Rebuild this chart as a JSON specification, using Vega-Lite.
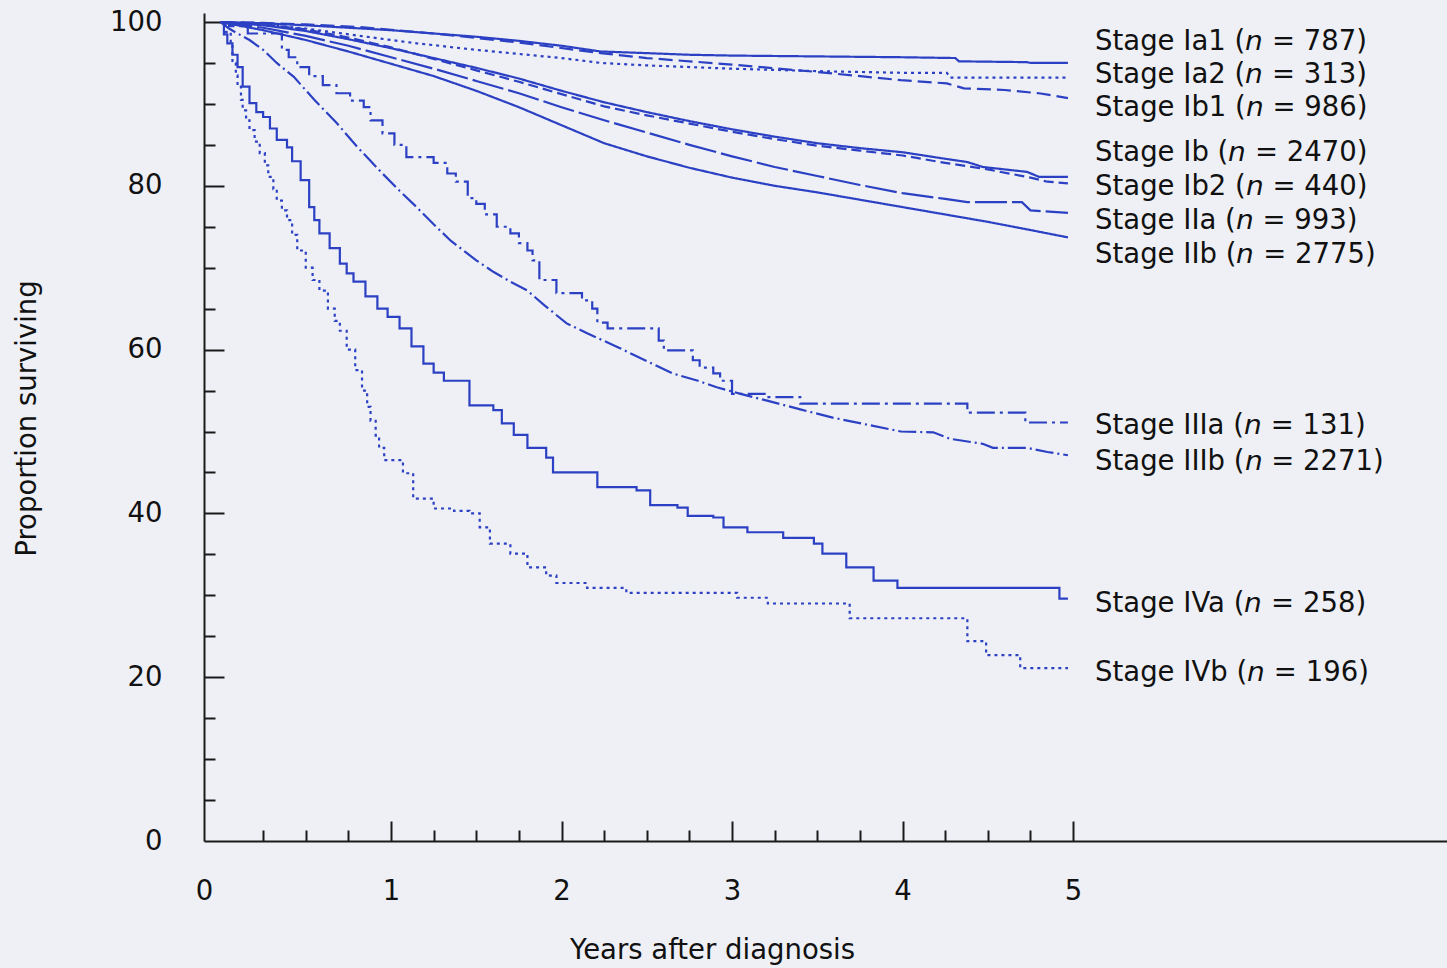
{
  "$schema": "https://vega.github.io/schema/vega-lite/v6.json",
  "width": 1243,
  "height": 828,
  "autosize": {"type": "none"},
  "padding": {"left": 204, "top": 13, "right": 0, "bottom": 127},
  "background": "#eef0f5",
  "config": {
    "view": {"stroke": null},
    "font": "DejaVu Sans",
    "axis": {
      "grid": false,
      "domainColor": "#1a1a1a",
      "domainWidth": 2,
      "tickColor": "#1a1a1a",
      "tickWidth": 2,
      "labelColor": "#111111",
      "titleColor": "#111111",
      "labelFont": "DejaVu Sans",
      "titleFont": "DejaVu Sans",
      "labelFontSize": 27.5,
      "titleFontSize": 27.5,
      "titleFontWeight": "normal",
      "labelFlush": false,
      "labelOverlap": false,
      "labelBound": false
    }
  },
  "datasets": {
    "curves": [
      {"stage": "Ia1", "t": 0, "s": 100}, {"stage": "Ia1", "t": 0.25, "s": 99.85}, {"stage": "Ia1", "t": 0.5, "s": 99.6}, {"stage": "Ia1", "t": 0.75, "s": 99.3}, {"stage": "Ia1", "t": 1, "s": 99.0}, {"stage": "Ia1", "t": 1.25, "s": 98.6}, {"stage": "Ia1", "t": 1.5, "s": 98.2}, {"stage": "Ia1", "t": 1.75, "s": 97.7}, {"stage": "Ia1", "t": 2, "s": 97.1}, {"stage": "Ia1", "t": 2.23, "s": 96.4}, {"stage": "Ia1", "t": 2.5, "s": 96.2}, {"stage": "Ia1", "t": 2.75, "s": 96.0}, {"stage": "Ia1", "t": 3, "s": 95.9}, {"stage": "Ia1", "t": 3.5, "s": 95.8}, {"stage": "Ia1", "t": 3.99, "s": 95.7}, {"stage": "Ia1", "t": 4.31, "s": 95.6}, {"stage": "Ia1", "t": 4.33, "s": 95.2}, {"stage": "Ia1", "t": 4.73, "s": 95.1}, {"stage": "Ia1", "t": 4.75, "s": 95.0}, {"stage": "Ia1", "t": 4.97, "s": 95.0},

      {"stage": "Ia2", "t": 0, "s": 100}, {"stage": "Ia2", "t": 0.25, "s": 99.7}, {"stage": "Ia2", "t": 0.5, "s": 99.2}, {"stage": "Ia2", "t": 0.75, "s": 98.5}, {"stage": "Ia2", "t": 1, "s": 97.8}, {"stage": "Ia2", "t": 1.15, "s": 97.4}, {"stage": "Ia2", "t": 1.5, "s": 96.6}, {"stage": "Ia2", "t": 2, "s": 95.6}, {"stage": "Ia2", "t": 2.23, "s": 95.0}, {"stage": "Ia2", "t": 2.5, "s": 94.7}, {"stage": "Ia2", "t": 3, "s": 94.3}, {"stage": "Ia2", "t": 3.5, "s": 94.0}, {"stage": "Ia2", "t": 3.99, "s": 93.8}, {"stage": "Ia2", "t": 4.26, "s": 93.8}, {"stage": "Ia2", "t": 4.28, "s": 93.2}, {"stage": "Ia2", "t": 4.97, "s": 93.2},

      {"stage": "Ib1", "t": 0, "s": 100}, {"stage": "Ib1", "t": 0.25, "s": 99.9}, {"stage": "Ib1", "t": 0.5, "s": 99.7}, {"stage": "Ib1", "t": 0.8, "s": 99.4}, {"stage": "Ib1", "t": 1.25, "s": 98.6}, {"stage": "Ib1", "t": 1.75, "s": 97.5}, {"stage": "Ib1", "t": 2.23, "s": 96.2}, {"stage": "Ib1", "t": 2.5, "s": 95.6}, {"stage": "Ib1", "t": 3, "s": 94.8}, {"stage": "Ib1", "t": 3.5, "s": 93.9}, {"stage": "Ib1", "t": 3.99, "s": 92.9}, {"stage": "Ib1", "t": 4.26, "s": 92.5}, {"stage": "Ib1", "t": 4.36, "s": 91.9}, {"stage": "Ib1", "t": 4.6, "s": 91.7}, {"stage": "Ib1", "t": 4.8, "s": 91.3}, {"stage": "Ib1", "t": 4.86, "s": 91.1}, {"stage": "Ib1", "t": 4.97, "s": 90.7},

      {"stage": "Ib", "t": 0, "s": 100}, {"stage": "Ib", "t": 0.1, "s": 99.85}, {"stage": "Ib", "t": 0.25, "s": 99.6}, {"stage": "Ib", "t": 0.5, "s": 98.9}, {"stage": "Ib", "t": 0.75, "s": 97.9}, {"stage": "Ib", "t": 1, "s": 96.8}, {"stage": "Ib", "t": 1.25, "s": 95.6}, {"stage": "Ib", "t": 1.5, "s": 94.4}, {"stage": "Ib", "t": 1.75, "s": 93.1}, {"stage": "Ib", "t": 2, "s": 91.6}, {"stage": "Ib", "t": 2.25, "s": 90.2}, {"stage": "Ib", "t": 2.5, "s": 89.0}, {"stage": "Ib", "t": 2.75, "s": 87.9}, {"stage": "Ib", "t": 3, "s": 86.9}, {"stage": "Ib", "t": 3.25, "s": 86.0}, {"stage": "Ib", "t": 3.5, "s": 85.2}, {"stage": "Ib", "t": 3.75, "s": 84.6}, {"stage": "Ib", "t": 4, "s": 84.1}, {"stage": "Ib", "t": 4.25, "s": 83.3}, {"stage": "Ib", "t": 4.38, "s": 82.9}, {"stage": "Ib", "t": 4.47, "s": 82.3}, {"stage": "Ib", "t": 4.73, "s": 81.7}, {"stage": "Ib", "t": 4.8, "s": 81.1}, {"stage": "Ib", "t": 4.97, "s": 81.1},

      {"stage": "Ib2", "t": 0, "s": 100}, {"stage": "Ib2", "t": 0.25, "s": 99.7}, {"stage": "Ib2", "t": 0.5, "s": 99.1}, {"stage": "Ib2", "t": 0.75, "s": 98.1}, {"stage": "Ib2", "t": 1, "s": 96.9}, {"stage": "Ib2", "t": 1.25, "s": 95.5}, {"stage": "Ib2", "t": 1.5, "s": 94.1}, {"stage": "Ib2", "t": 1.75, "s": 92.7}, {"stage": "Ib2", "t": 2, "s": 91.2}, {"stage": "Ib2", "t": 2.25, "s": 89.7}, {"stage": "Ib2", "t": 2.5, "s": 88.6}, {"stage": "Ib2", "t": 2.75, "s": 87.6}, {"stage": "Ib2", "t": 3, "s": 86.6}, {"stage": "Ib2", "t": 3.25, "s": 85.7}, {"stage": "Ib2", "t": 3.5, "s": 84.9}, {"stage": "Ib2", "t": 3.75, "s": 84.3}, {"stage": "Ib2", "t": 4, "s": 83.7}, {"stage": "Ib2", "t": 4.25, "s": 82.8}, {"stage": "Ib2", "t": 4.5, "s": 82.0}, {"stage": "Ib2", "t": 4.75, "s": 81.0}, {"stage": "Ib2", "t": 4.85, "s": 80.5}, {"stage": "Ib2", "t": 4.97, "s": 80.3},

      {"stage": "IIa", "t": 0, "s": 100}, {"stage": "IIa", "t": 0.1, "s": 99.7}, {"stage": "IIa", "t": 0.25, "s": 99.3}, {"stage": "IIa", "t": 0.5, "s": 98.3}, {"stage": "IIa", "t": 0.75, "s": 97.1}, {"stage": "IIa", "t": 1, "s": 95.7}, {"stage": "IIa", "t": 1.25, "s": 94.3}, {"stage": "IIa", "t": 1.5, "s": 92.8}, {"stage": "IIa", "t": 1.75, "s": 91.3}, {"stage": "IIa", "t": 2, "s": 89.6}, {"stage": "IIa", "t": 2.25, "s": 88.0}, {"stage": "IIa", "t": 2.5, "s": 86.5}, {"stage": "IIa", "t": 2.75, "s": 85.0}, {"stage": "IIa", "t": 3, "s": 83.6}, {"stage": "IIa", "t": 3.25, "s": 82.3}, {"stage": "IIa", "t": 3.5, "s": 81.2}, {"stage": "IIa", "t": 3.75, "s": 80.1}, {"stage": "IIa", "t": 4, "s": 79.1}, {"stage": "IIa", "t": 4.25, "s": 78.4}, {"stage": "IIa", "t": 4.38, "s": 78.0}, {"stage": "IIa", "t": 4.7, "s": 78.0}, {"stage": "IIa", "t": 4.75, "s": 77.0}, {"stage": "IIa", "t": 4.97, "s": 76.7},

      {"stage": "IIb", "t": 0, "s": 100}, {"stage": "IIb", "t": 0.1, "s": 99.6}, {"stage": "IIb", "t": 0.25, "s": 99.0}, {"stage": "IIb", "t": 0.5, "s": 97.8}, {"stage": "IIb", "t": 0.75, "s": 96.4}, {"stage": "IIb", "t": 1, "s": 94.9}, {"stage": "IIb", "t": 1.25, "s": 93.4}, {"stage": "IIb", "t": 1.5, "s": 91.6}, {"stage": "IIb", "t": 1.75, "s": 89.6}, {"stage": "IIb", "t": 2, "s": 87.4}, {"stage": "IIb", "t": 2.25, "s": 85.2}, {"stage": "IIb", "t": 2.5, "s": 83.6}, {"stage": "IIb", "t": 2.75, "s": 82.2}, {"stage": "IIb", "t": 3, "s": 81.0}, {"stage": "IIb", "t": 3.25, "s": 80.0}, {"stage": "IIb", "t": 3.5, "s": 79.2}, {"stage": "IIb", "t": 3.75, "s": 78.3}, {"stage": "IIb", "t": 4, "s": 77.4}, {"stage": "IIb", "t": 4.25, "s": 76.5}, {"stage": "IIb", "t": 4.5, "s": 75.6}, {"stage": "IIb", "t": 4.75, "s": 74.6}, {"stage": "IIb", "t": 4.97, "s": 73.7},

      {"stage": "IIIb", "t": 0, "s": 100}, {"stage": "IIIb", "t": 0.05, "s": 99.2}, {"stage": "IIIb", "t": 0.1, "s": 98.6}, {"stage": "IIIb", "t": 0.17, "s": 97.8}, {"stage": "IIIb", "t": 0.25, "s": 96.6}, {"stage": "IIIb", "t": 0.33, "s": 95.0}, {"stage": "IIIb", "t": 0.43, "s": 93.3}, {"stage": "IIIb", "t": 0.55, "s": 90.5}, {"stage": "IIIb", "t": 0.68, "s": 87.7}, {"stage": "IIIb", "t": 0.8, "s": 84.8}, {"stage": "IIIb", "t": 0.95, "s": 81.5}, {"stage": "IIIb", "t": 1.05, "s": 79.4}, {"stage": "IIIb", "t": 1.15, "s": 77.4}, {"stage": "IIIb", "t": 1.25, "s": 75.3}, {"stage": "IIIb", "t": 1.35, "s": 73.3}, {"stage": "IIIb", "t": 1.5, "s": 70.9}, {"stage": "IIIb", "t": 1.6, "s": 69.5}, {"stage": "IIIb", "t": 1.7, "s": 68.3}, {"stage": "IIIb", "t": 1.8, "s": 67.2}, {"stage": "IIIb", "t": 1.9, "s": 65.4}, {"stage": "IIIb", "t": 2.03, "s": 63.2}, {"stage": "IIIb", "t": 2.15, "s": 62.0}, {"stage": "IIIb", "t": 2.33, "s": 60.3}, {"stage": "IIIb", "t": 2.5, "s": 58.6}, {"stage": "IIIb", "t": 2.65, "s": 57.1}, {"stage": "IIIb", "t": 2.8, "s": 56.2}, {"stage": "IIIb", "t": 2.91, "s": 55.4}, {"stage": "IIIb", "t": 3.05, "s": 54.6}, {"stage": "IIIb", "t": 3.2, "s": 53.8}, {"stage": "IIIb", "t": 3.4, "s": 52.7}, {"stage": "IIIb", "t": 3.59, "s": 51.7}, {"stage": "IIIb", "t": 3.8, "s": 50.8}, {"stage": "IIIb", "t": 3.99, "s": 50.0}, {"stage": "IIIb", "t": 4.18, "s": 49.9}, {"stage": "IIIb", "t": 4.28, "s": 49.1}, {"stage": "IIIb", "t": 4.47, "s": 48.5}, {"stage": "IIIb", "t": 4.53, "s": 48.0}, {"stage": "IIIb", "t": 4.73, "s": 48.0}, {"stage": "IIIb", "t": 4.85, "s": 47.5}, {"stage": "IIIb", "t": 4.97, "s": 47.1}
    ],
    "steps": [
      {"stage": "IIIa", "t": 0, "s": 100}, {"stage": "IIIa", "t": 0.05, "s": 99.5}, {"stage": "IIIa", "t": 0.16, "s": 98.6}, {"stage": "IIIa", "t": 0.36, "s": 96.6}, {"stage": "IIIa", "t": 0.4, "s": 95.7}, {"stage": "IIIa", "t": 0.45, "s": 94.5}, {"stage": "IIIa", "t": 0.52, "s": 93.4}, {"stage": "IIIa", "t": 0.6, "s": 92.3}, {"stage": "IIIa", "t": 0.68, "s": 91.3}, {"stage": "IIIa", "t": 0.76, "s": 90.4}, {"stage": "IIIa", "t": 0.84, "s": 89.6}, {"stage": "IIIa", "t": 0.88, "s": 88.0}, {"stage": "IIIa", "t": 0.95, "s": 86.4}, {"stage": "IIIa", "t": 1.02, "s": 85.0}, {"stage": "IIIa", "t": 1.09, "s": 83.5}, {"stage": "IIIa", "t": 1.25, "s": 82.8}, {"stage": "IIIa", "t": 1.33, "s": 81.5}, {"stage": "IIIa", "t": 1.38, "s": 80.5}, {"stage": "IIIa", "t": 1.45, "s": 78.5}, {"stage": "IIIa", "t": 1.5, "s": 77.8}, {"stage": "IIIa", "t": 1.55, "s": 76.5}, {"stage": "IIIa", "t": 1.62, "s": 75.0}, {"stage": "IIIa", "t": 1.7, "s": 74.2}, {"stage": "IIIa", "t": 1.75, "s": 73.0}, {"stage": "IIIa", "t": 1.8, "s": 72.1}, {"stage": "IIIa", "t": 1.83, "s": 70.9}, {"stage": "IIIa", "t": 1.87, "s": 68.5}, {"stage": "IIIa", "t": 1.97, "s": 66.9}, {"stage": "IIIa", "t": 2.12, "s": 66.0}, {"stage": "IIIa", "t": 2.18, "s": 65.0}, {"stage": "IIIa", "t": 2.21, "s": 63.3}, {"stage": "IIIa", "t": 2.27, "s": 62.6}, {"stage": "IIIa", "t": 2.57, "s": 61.1}, {"stage": "IIIa", "t": 2.6, "s": 59.9}, {"stage": "IIIa", "t": 2.77, "s": 58.7}, {"stage": "IIIa", "t": 2.81, "s": 57.8}, {"stage": "IIIa", "t": 2.89, "s": 57.1}, {"stage": "IIIa", "t": 2.93, "s": 56.2}, {"stage": "IIIa", "t": 3.0, "s": 54.6}, {"stage": "IIIa", "t": 3.2, "s": 54.2}, {"stage": "IIIa", "t": 3.4, "s": 53.4}, {"stage": "IIIa", "t": 4.38, "s": 52.3}, {"stage": "IIIa", "t": 4.72, "s": 51.1}, {"stage": "IIIa", "t": 4.97, "s": 51.1},

      {"stage": "IVa", "t": 0, "s": 100}, {"stage": "IVa", "t": 0.02, "s": 98.5}, {"stage": "IVa", "t": 0.04, "s": 97.4}, {"stage": "IVa", "t": 0.07, "s": 96.0}, {"stage": "IVa", "t": 0.1, "s": 94.5}, {"stage": "IVa", "t": 0.13, "s": 92.1}, {"stage": "IVa", "t": 0.17, "s": 90.1}, {"stage": "IVa", "t": 0.21, "s": 89.0}, {"stage": "IVa", "t": 0.25, "s": 88.4}, {"stage": "IVa", "t": 0.29, "s": 87.0}, {"stage": "IVa", "t": 0.33, "s": 85.6}, {"stage": "IVa", "t": 0.39, "s": 84.7}, {"stage": "IVa", "t": 0.42, "s": 83.0}, {"stage": "IVa", "t": 0.47, "s": 80.7}, {"stage": "IVa", "t": 0.52, "s": 77.4}, {"stage": "IVa", "t": 0.55, "s": 75.8}, {"stage": "IVa", "t": 0.58, "s": 74.2}, {"stage": "IVa", "t": 0.64, "s": 72.4}, {"stage": "IVa", "t": 0.7, "s": 70.5}, {"stage": "IVa", "t": 0.74, "s": 69.3}, {"stage": "IVa", "t": 0.78, "s": 68.3}, {"stage": "IVa", "t": 0.85, "s": 66.5}, {"stage": "IVa", "t": 0.92, "s": 65.0}, {"stage": "IVa", "t": 0.98, "s": 64.0}, {"stage": "IVa", "t": 1.05, "s": 62.6}, {"stage": "IVa", "t": 1.12, "s": 60.4}, {"stage": "IVa", "t": 1.19, "s": 58.3}, {"stage": "IVa", "t": 1.25, "s": 57.2}, {"stage": "IVa", "t": 1.31, "s": 56.2}, {"stage": "IVa", "t": 1.46, "s": 53.2}, {"stage": "IVa", "t": 1.6, "s": 52.6}, {"stage": "IVa", "t": 1.65, "s": 51.0}, {"stage": "IVa", "t": 1.72, "s": 49.6}, {"stage": "IVa", "t": 1.8, "s": 48.0}, {"stage": "IVa", "t": 1.91, "s": 46.8}, {"stage": "IVa", "t": 1.95, "s": 45.0}, {"stage": "IVa", "t": 2.21, "s": 43.2}, {"stage": "IVa", "t": 2.44, "s": 42.8}, {"stage": "IVa", "t": 2.52, "s": 41.0}, {"stage": "IVa", "t": 2.68, "s": 40.7}, {"stage": "IVa", "t": 2.74, "s": 39.7}, {"stage": "IVa", "t": 2.89, "s": 39.5}, {"stage": "IVa", "t": 2.95, "s": 38.3}, {"stage": "IVa", "t": 3.09, "s": 37.7}, {"stage": "IVa", "t": 3.3, "s": 37.0}, {"stage": "IVa", "t": 3.48, "s": 36.3}, {"stage": "IVa", "t": 3.53, "s": 35.1}, {"stage": "IVa", "t": 3.67, "s": 33.4}, {"stage": "IVa", "t": 3.83, "s": 31.8}, {"stage": "IVa", "t": 3.97, "s": 30.9}, {"stage": "IVa", "t": 4.92, "s": 29.6}, {"stage": "IVa", "t": 4.97, "s": 29.6},

      {"stage": "IVb", "t": 0, "s": 100}, {"stage": "IVb", "t": 0.03, "s": 98.8}, {"stage": "IVb", "t": 0.06, "s": 97.4}, {"stage": "IVb", "t": 0.07, "s": 95.0}, {"stage": "IVb", "t": 0.09, "s": 93.5}, {"stage": "IVb", "t": 0.1, "s": 92.1}, {"stage": "IVb", "t": 0.12, "s": 90.5}, {"stage": "IVb", "t": 0.13, "s": 89.2}, {"stage": "IVb", "t": 0.15, "s": 88.0}, {"stage": "IVb", "t": 0.17, "s": 86.8}, {"stage": "IVb", "t": 0.2, "s": 85.4}, {"stage": "IVb", "t": 0.23, "s": 84.0}, {"stage": "IVb", "t": 0.26, "s": 82.5}, {"stage": "IVb", "t": 0.28, "s": 81.1}, {"stage": "IVb", "t": 0.31, "s": 79.6}, {"stage": "IVb", "t": 0.33, "s": 78.2}, {"stage": "IVb", "t": 0.36, "s": 77.0}, {"stage": "IVb", "t": 0.39, "s": 75.8}, {"stage": "IVb", "t": 0.42, "s": 74.0}, {"stage": "IVb", "t": 0.45, "s": 72.1}, {"stage": "IVb", "t": 0.5, "s": 70.0}, {"stage": "IVb", "t": 0.54, "s": 68.5}, {"stage": "IVb", "t": 0.58, "s": 67.2}, {"stage": "IVb", "t": 0.63, "s": 65.0}, {"stage": "IVb", "t": 0.67, "s": 63.5}, {"stage": "IVb", "t": 0.7, "s": 62.3}, {"stage": "IVb", "t": 0.74, "s": 60.0}, {"stage": "IVb", "t": 0.79, "s": 57.5}, {"stage": "IVb", "t": 0.83, "s": 55.0}, {"stage": "IVb", "t": 0.86, "s": 53.0}, {"stage": "IVb", "t": 0.88, "s": 51.3}, {"stage": "IVb", "t": 0.91, "s": 49.5}, {"stage": "IVb", "t": 0.93, "s": 48.0}, {"stage": "IVb", "t": 0.96, "s": 46.5}, {"stage": "IVb", "t": 1.07, "s": 44.9}, {"stage": "IVb", "t": 1.13, "s": 41.8}, {"stage": "IVb", "t": 1.25, "s": 40.6}, {"stage": "IVb", "t": 1.37, "s": 40.3}, {"stage": "IVb", "t": 1.46, "s": 40.0}, {"stage": "IVb", "t": 1.52, "s": 38.3}, {"stage": "IVb", "t": 1.58, "s": 36.3}, {"stage": "IVb", "t": 1.7, "s": 35.1}, {"stage": "IVb", "t": 1.8, "s": 33.4}, {"stage": "IVb", "t": 1.91, "s": 32.4}, {"stage": "IVb", "t": 1.97, "s": 31.5}, {"stage": "IVb", "t": 2.15, "s": 30.9}, {"stage": "IVb", "t": 2.38, "s": 30.3}, {"stage": "IVb", "t": 3.03, "s": 29.7}, {"stage": "IVb", "t": 3.21, "s": 29.0}, {"stage": "IVb", "t": 3.69, "s": 27.2}, {"stage": "IVb", "t": 4.38, "s": 24.4}, {"stage": "IVb", "t": 4.49, "s": 22.7}, {"stage": "IVb", "t": 4.69, "s": 21.1}, {"stage": "IVb", "t": 4.97, "s": 21.1}
    ],
    "labels": [
      {"label": "Stage Ia1 (𝘯 = 787)", "t": 5.129, "s": 97.6},
      {"label": "Stage Ia2 (𝘯 = 313)", "t": 5.129, "s": 93.5},
      {"label": "Stage Ib1 (𝘯 = 986)", "t": 5.129, "s": 89.5},
      {"label": "Stage Ib (𝘯 = 2470)", "t": 5.129, "s": 84.0},
      {"label": "Stage Ib2 (𝘯 = 440)", "t": 5.129, "s": 79.8},
      {"label": "Stage IIa (𝘯 = 993)", "t": 5.129, "s": 75.7},
      {"label": "Stage IIb (𝘯 = 2775)", "t": 5.129, "s": 71.5},
      {"label": "Stage IIIa (𝘯 = 131)", "t": 5.129, "s": 50.7},
      {"label": "Stage IIIb (𝘯 = 2271)", "t": 5.129, "s": 46.3},
      {"label": "Stage IVa (𝘯 = 258)", "t": 5.129, "s": 28.9},
      {"label": "Stage IVb (𝘯 = 196)", "t": 5.129, "s": 20.5}
    ]
  },
  "resolve": {"axis": {"x": "independent", "y": "independent"}},
  "layer": [
    {
      "data": {"name": "curves"},
      "mark": {"type": "line", "color": "#2c40c4", "strokeWidth": 2.2, "interpolate": "linear"},
      "encoding": {
        "x": {
          "field": "t", "type": "quantitative",
          "scale": {"domain": [-0.0968, 7.193], "nice": false, "zero": false},
          "axis": {
            "orient": "bottom",
            "values": [-0.0968, 1, 2, 3, 4, 5],
            "labelExpr": "datum.value < 0 ? '0' : datum.label",
            "ticks": false,
            "labelPadding": 36,
            "title": "Years after diagnosis",
            "titleX": 508,
            "titleY": 109,
            "titleBaseline": "middle"
          }
        },
        "y": {
          "field": "s", "type": "quantitative",
          "scale": {"domain": [0, 101.1], "nice": false, "zero": false},
          "axis": {
            "orient": "left",
            "values": [0, 20, 40, 60, 80, 100],
            "ticks": false,
            "labelPadding": 42,
            "title": "Proportion  surviving",
            "titleX": -177,
            "titleY": 405,
            "titleBaseline": "middle"
          }
        },
        "strokeDash": {
          "field": "stage", "type": "nominal", "legend": null,
          "scale": {
            "domain": ["Ia1", "Ia2", "Ib1", "Ib", "Ib2", "IIa", "IIb", "IIIa", "IIIb", "IVa", "IVb"],
            "range": [[1, 0], [3, 4], [14, 6], [1, 0], [10, 5], [32, 5], [1, 0], [18, 5, 3, 5], [18, 4, 2, 4], [1, 0], [3, 4]]
          }
        }
      }
    },
    {
      "data": {"name": "steps"},
      "mark": {"type": "line", "color": "#2c40c4", "strokeWidth": 2.2, "interpolate": "step-after"},
      "encoding": {
        "x": {
          "field": "t", "type": "quantitative",
          "scale": {"domain": [-0.0968, 7.193], "nice": false, "zero": false},
          "axis": {"orient": "bottom", "values": [1, 2, 3, 4, 5], "tickSize": -20, "labels": false, "domain": false, "title": null}
        },
        "y": {
          "field": "s", "type": "quantitative",
          "scale": {"domain": [0, 101.1], "nice": false, "zero": false},
          "axis": {"orient": "left", "values": [20, 40, 60, 80, 100], "tickSize": -20, "labels": false, "domain": false, "title": null}
        },
        "strokeDash": {
          "field": "stage", "type": "nominal", "legend": null,
          "scale": {
            "domain": ["Ia1", "Ia2", "Ib1", "Ib", "Ib2", "IIa", "IIb", "IIIa", "IIIb", "IVa", "IVb"],
            "range": [[1, 0], [3, 4], [14, 6], [1, 0], [10, 5], [32, 5], [1, 0], [18, 5, 3, 5], [18, 4, 2, 4], [1, 0], [3, 4]]
          }
        }
      }
    },
    {
      "data": {"name": "labels"},
      "mark": {"type": "text", "align": "left", "baseline": "middle", "font": "DejaVu Sans", "fontSize": 27.5, "color": "#111111"},
      "encoding": {
        "x": {
          "field": "t", "type": "quantitative",
          "scale": {"domain": [-0.0968, 7.193], "nice": false, "zero": false},
          "axis": {"orient": "bottom", "values": [0.25, 0.5, 0.75, 1.25, 1.5, 1.75, 2.25, 2.5, 2.75, 3.25, 3.5, 3.75, 4.25, 4.5, 4.75], "tickSize": -11, "labels": false, "domain": false, "title": null}
        },
        "y": {
          "field": "s", "type": "quantitative",
          "scale": {"domain": [0, 101.1], "nice": false, "zero": false},
          "axis": {"orient": "left", "values": [5, 10, 15, 25, 30, 35, 45, 50, 55, 65, 70, 75, 85, 90, 95], "tickSize": -11, "labels": false, "domain": false, "title": null}
        },
        "text": {"field": "label"}
      }
    }
  ]
}
